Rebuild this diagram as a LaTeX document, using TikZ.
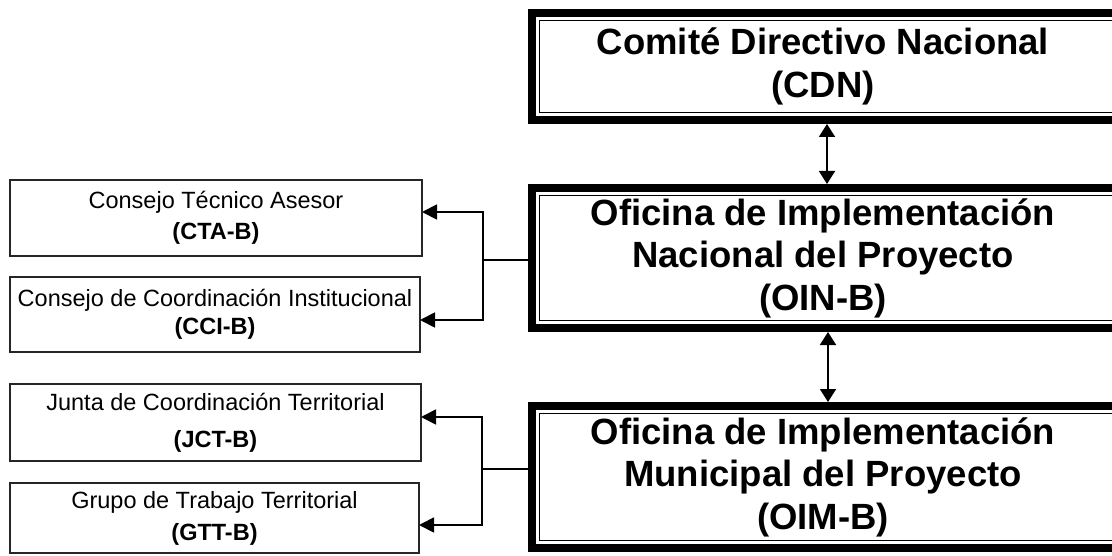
\documentclass[tikz,border=0pt]{standalone}
\usepackage{fontspec}
\setmainfont{Liberation Sans}
\usetikzlibrary{arrows.meta,calc}
\begin{document}
\begin{tikzpicture}[x=1pt,y=-1pt,
  bigbox/.style={draw, line width=8pt, minimum width=600pt, inner sep=0pt, outer sep=0pt},
  bigtext/.style={align=center, inner sep=0pt, font=\fontsize{36.5}{42.5}\selectfont\bfseries},
  smallbox/.style={draw=black!85, line width=1.2pt, inner sep=0pt, outer sep=0pt, align=center,
    font=\fontsize{23.5}{28}\selectfont},
  conn/.style={line width=1.8pt},
  arr/.style={conn, -{Triangle[length=15pt,width=15pt]}},
  darr/.style={conn, {Triangle[length=13pt,width=16pt]}-{Triangle[length=13pt,width=16pt]}, shorten <=4pt, shorten >=4pt}
]
\useasboundingbox (0,0) rectangle (1112,556);
\fill[white] (0,0) rectangle (1112,556);
\begin{scope}
\clip (0,0) rectangle (1112,556);
% big boxes
\node[bigbox, minimum height=107pt,
  label={[name=CDNt, bigtext, xshift=-9pt]center:{Comité Directivo Nacional\\(CDN)}}] (CDN) at (832,66.5) {};
\node[bigbox, minimum height=140pt,
  label={[name=OINt, bigtext, xshift=-9pt]center:{Oficina de Implementación\\Nacional del Proyecto\\(OIN-B)}}] (OIN) at (832,258) {};
\node[bigbox, minimum height=142pt,
  label={[name=OIMt, bigtext, xshift=-9pt]center:{Oficina de Implementación\\Municipal del Proyecto\\(OIM-B)}}] (OIM) at (832,477) {};
\foreach \n in {CDN,OIN,OIM}
  \draw[line width=1.2pt] ([shift={(7.8,7.8)}]\n.north west) rectangle ([shift={(-7.8,-7.8)}]\n.south east);

% small boxes
\node[smallbox, minimum width=412pt, minimum height=76pt] (CTA) at (216,218)
  {Consejo Técnico Asesor\\[3pt]\textbf{(CTA-B)}};
\node[smallbox, minimum width=410pt, minimum height=75pt] (CCI) at (215,314.5)
  {Consejo de Coordinación Institucional\\\textbf{(CCI-B)}};
\node[smallbox, minimum width=411pt, minimum height=77pt] (JCT) at (215.5,422.5)
  {Junta de Coordinación Territorial\\[9pt]\textbf{(JCT-B)}};
\node[smallbox, minimum width=409pt, minimum height=70pt] (GTT) at (214.5,518)
  {Grupo de Trabajo Territorial\\[4pt]\textbf{(GTT-B)}};

% connectors
\draw[darr] ([xshift=-5pt]CDN.south) -- ([xshift=-5pt]OIN.north);
\draw[darr] ([xshift=-4pt]OIN.south) -- ([xshift=-4pt]OIM.north);

\coordinate (j1) at (483,260);
\coordinate (j2) at (482,469);
\draw[conn] (j1) -- (j1 -| OIN.west);
\draw[conn] (j2) -- (j2 -| OIM.west);
\draw[arr] (j1) |- ([yshift=6pt]CTA.east);
\draw[arr] (j1) |- ([yshift=-5.5pt]CCI.east);
\draw[arr] (j2) |- ([yshift=5.5pt]JCT.east);
\draw[arr] (j2) |- ([yshift=-7pt]GTT.east);
\end{scope}
\end{tikzpicture}
\end{document}
